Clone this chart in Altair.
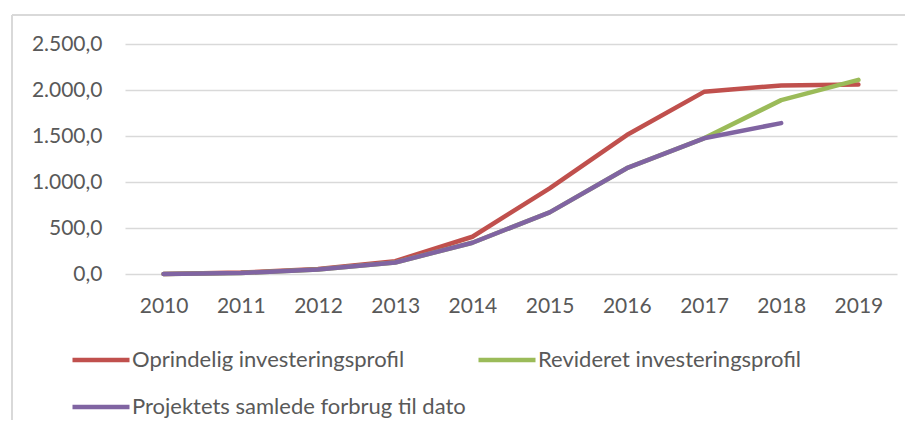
import altair as alt
import pandas as pd

years = [str(y) for y in range(2010, 2020)]
oprindelig = [0, 15, 55, 140, 405, 930, 1510, 1980, 2050, 2060]
revideret = [0, 10, 50, 125, 340, 670, 1150, 1475, 1890, 2110]
forbrug = [0, 10, 50, 125, 340, 670, 1150, 1475, 1640, None]
series_names = [
    "Oprindelig investeringsprofil",
    "Revideret investeringsprofil",
    "Projektets samlede forbrug til dato",
]
colors = ["#C0504D", "#9BBB59", "#8064A2"]
y_ticks = [0, 500, 1000, 1500, 2000, 2500]

rows = []
for k, (name, vals) in enumerate(zip(series_names, [oprindelig, revideret, forbrug])):
    for yr, v in zip(years, vals):
        if v is not None:
            rows.append({"year": yr, "value": v, "series": name, "k": k})
df = pd.DataFrame(rows)

FONT = "Lato"
GREY = "#595959"

label_expr = ("replace(replace(replace(format(datum.value, ',.1f'), ',', '#'), '.', ','), '#', '.')")

lines = alt.Chart(df).mark_line(
    strokeWidth=4.5, strokeCap="round", strokeJoin="round"
).encode(
    x=alt.X("year:O", sort=years, title=None,
            axis=alt.Axis(labelAngle=0, ticks=False, domain=False, grid=False,
                          labelFont=FONT, labelFontSize=21, labelColor=GREY,
                          labelPadding=21)),
    y=alt.Y("value:Q", title=None,
            scale=alt.Scale(domain=[0, 2500], nice=False),
            axis=alt.Axis(values=y_ticks, labelExpr=label_expr, ticks=False,
                          domain=False, grid=True, gridColor="#d9d9d9",
                          gridWidth=1.5, labelFont=FONT, labelFontSize=21,
                          labelColor=GREY, labelPadding=23)),
    color=alt.Color("series:N", sort=series_names,
                    scale=alt.Scale(domain=series_names, range=colors),
                    legend=alt.Legend(title=None, orient="none", legendX=-55,
                                      legendY=285, columns=2, direction="horizontal",
                                      symbolType="stroke", symbolSize=3249,
                                      symbolStrokeWidth=4.5, labelFont=FONT,
                                      labelFontSize=22, labelColor=GREY,
                                      labelLimit=600, labelOffset=0,
                                      columnPadding=3, rowPadding=5)),
    order=alt.Order("k:Q"),
    detail="series:N",
)

frame_df = pd.DataFrame({"a": [0]})
left_border = alt.Chart(frame_df).mark_rule(color="#d9d9d9", strokeWidth=2).encode(
    x=alt.value(-113), y=alt.value(-29), y2=alt.value(420)
)
top_border = alt.Chart(frame_df).mark_rule(color="#d9d9d9", strokeWidth=2).encode(
    x=alt.value(-113), x2=alt.value(800), y=alt.value(-29)
)

chart = alt.layer(left_border, top_border, lines).properties(
    width=772, height=230,
    padding={"left": 117, "top": 36, "right": 8, "bottom": 146},
    autosize=alt.AutoSizeParams(type="none"),
).configure_view(stroke=None)

chart.save("out.html", embed_options={"renderer": "svg", "actions": False})
